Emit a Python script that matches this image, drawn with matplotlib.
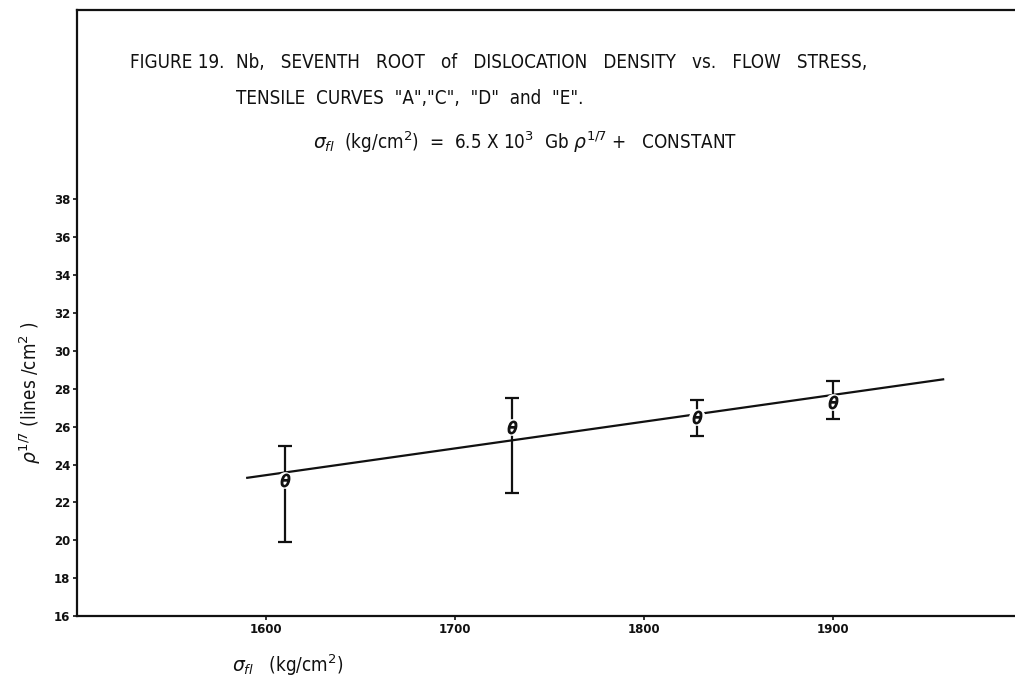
import matplotlib

matplotlib.use("Agg")
import matplotlib.pyplot as plt

# flow stress (kg/cm^2) and seventh root of dislocation density
STRESS = [1610, 1730, 1828, 1900]
RHO_17 = [23.2, 26.0, 26.5, 27.3]
RHO_UPPER = [25.0, 27.5, 27.4, 28.4]
RHO_LOWER = [19.9, 22.5, 25.5, 26.4]

# straight fit drawn through the data
FIT_STRESS = [1590, 1958]
FIT_RHO = [23.3, 28.5]

X_TICKS = [1600, 1700, 1800, 1900]
Y_TICKS = list(range(16, 40, 2))

FONT = ["DejaVu Sans"]
INK = "#111111"


def put(fig, x, y, text, **kw):
    # positions given in pixels from the top-left corner of the 1015x687 sheet
    kw.setdefault("fontsize", 13.5)
    kw.setdefault("va", "center")
    kw.setdefault("color", INK)
    kw.setdefault("fontstretch", "condensed")
    fig.text(x / 1015, 1 - y / 687, text, **kw)


def plot() -> None:
    plt.rcParams.update({"font.family": FONT, "mathtext.fontset": "dejavusans"})

    fig = plt.figure(figsize=(10.15, 6.87), dpi=100)
    ax = fig.add_axes([0.0759, 0.1033, 0.9241, 0.882])

    ax.plot(FIT_STRESS, FIT_RHO, color=INK, linewidth=1.6, zorder=2)

    yerr = [
        [v - lo for v, lo in zip(RHO_17, RHO_LOWER)],
        [hi - v for v, hi in zip(RHO_17, RHO_UPPER)],
    ]
    ax.errorbar(
        STRESS,
        RHO_17,
        yerr=yerr,
        fmt="none",
        ecolor=INK,
        elinewidth=1.6,
        capsize=5,
        capthick=1.6,
        zorder=3,
    )
    ax.plot(STRESS, RHO_17, "o", markersize=11, markerfacecolor="white",
            markeredgecolor="white", zorder=4)
    ax.plot(STRESS, RHO_17, marker=r"$\theta$", linestyle="none", markersize=9,
            color=INK, zorder=5)

    ax.set_xlim(1500, 1996)
    ax.set_ylim(16, 48)
    ax.set_xticks(X_TICKS, [str(t) for t in X_TICKS])
    ax.set_yticks(Y_TICKS, [str(t) for t in Y_TICKS])
    ax.tick_params(axis="both", direction="out", length=3, width=1.2,
                   colors=INK, labelsize=8.5, pad=2)
    for label in ax.get_xticklabels() + ax.get_yticklabels():
        label.set_fontweight("bold")

    ax.spines["right"].set_visible(False)
    for side in ("left", "bottom", "top"):
        ax.spines[side].set_linewidth(1.6)
        ax.spines[side].set_color(INK)

    put(fig, 224, 62, "FIGURE 19.", ha="right")
    put(fig, 236, 62,
        "Nb,   SEVENTH   ROOT   of   DISLOCATION   DENSITY   vs.   FLOW   STRESS,")
    put(fig, 236, 98, 'TENSILE  CURVES  "A","C",  "D"  and  "E".')
    put(fig, 313, 142,
        r"$\sigma_{fl}$  (kg/cm$^2$)  =  6.5 X 10$^3$  Gb $\rho^{1/7}$ +   CONSTANT")

    put(fig, 30, 393, r"$\rho^{1/7}$ (lines /cm$^2$ )", rotation=90, ha="center")
    put(fig, 232, 665, r"$\sigma_{fl}$   (kg/cm$^2$)")

    fig.savefig("out.png", dpi=100)
    plt.close(fig)


if __name__ == "__main__":
    plot()
